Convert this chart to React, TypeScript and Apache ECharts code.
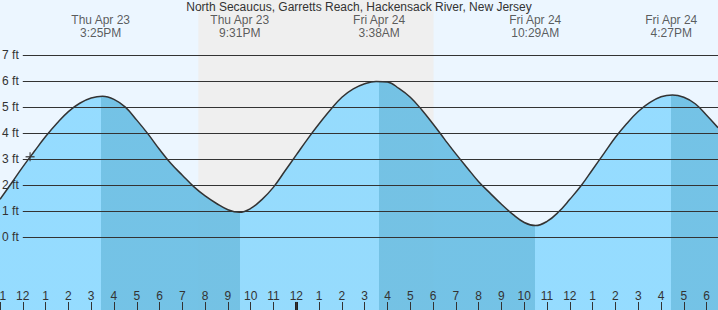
import React, { useEffect, useRef } from "react";
import * as echarts from "echarts";

const TITLE = "North Secaucus, Garretts Reach, Hackensack River, New Jersey";

// Tide readings every half hour: hours since Thu Apr 23 00:00, height in feet
const tideHours = [
  11, 11.5, 12, 12.5, 13, 13.5, 14, 14.5, 15, 15.5, 16,
  16.5, 17, 17.5, 18, 18.5, 19, 19.5, 20, 20.5, 21, 21.5,
  22, 22.5, 23, 23.5, 24, 24.5, 25, 25.5, 26, 26.5, 27,
  27.5, 28, 28.5, 29, 29.5, 30, 30.5, 31, 31.5, 32, 32.5,
  33, 33.5, 34, 34.5, 35, 35.5, 36, 36.5, 37, 37.5, 38,
  38.5, 39, 39.5, 40, 40.5, 41, 41.5, 42, 42.5,
];
const tideFeet = [
  1.45, 2.07, 2.7, 3.29, 3.87, 4.38, 4.83, 5.15, 5.35, 5.42, 5.3,
  5.0, 4.5, 3.96, 3.37, 2.83, 2.38, 1.94, 1.58, 1.29, 1.05, 0.95,
  1.1, 1.45, 1.92, 2.54, 3.16, 3.78, 4.36, 4.9, 5.38, 5.7, 5.9,
  5.99, 5.97, 5.72, 5.38, 4.9, 4.35, 3.77, 3.2, 2.66, 2.13, 1.69,
  1.26, 0.87, 0.56, 0.44, 0.6, 0.96, 1.45, 1.98, 2.6, 3.22, 3.84,
  4.37, 4.83, 5.17, 5.4, 5.47, 5.38, 5.13, 4.69, 4.21,
];

// High / low events
const eventHours = [15.4167, 21.5167, 27.6333, 34.4833, 40.45];
const eventFeet = [5.42, 0.95, 6.0, 0.44, 5.47];
const eventDays = ["Thu Apr 23", "Thu Apr 23", "Fri Apr 24", "Fri Apr 24", "Fri Apr 24"];
const eventTimes = ["3:25PM", "9:31PM", "3:38AM", "10:29AM", "4:27PM"];

const sunsetHour = 19.7;
const sunriseHour = 30.02;
const midnightHour = 24;
const nowHour = 12.32;
const nowFeet = 3.09;

const hourTicks = [
  11, 12, 13, 14, 15, 16, 17, 18, 19, 20, 21, 22, 23, 24, 25, 26, 27, 28, 29,
  30, 31, 32, 33, 34, 35, 36, 37, 38, 39, 40, 41, 42,
];
const gridFeet = [0, 1, 2, 3, 4, 5, 6, 7];
const gridStartHour = 12;

const X_MIN = 11.0;
const X_MAX = 42.5;
const Y_MIN = -2.811;
const Y_MAX = 9.126;
const LABEL_FT = 8.12;
const MIDNIGHT_TICK_FT = 0.31;

const FONT = "Liberation Sans, Arial, sans-serif";
const TEXT = "#333333";
const DAY_BG = "#ecf6ff";
const NIGHT_BG = "#efefef";
const RISE = "#8cd9ff";
const FALL = "#67bde3";

export default function App() {
  const ref = useRef<HTMLDivElement>(null);
  useEffect(() => {
    if (!ref.current) return;
    const chart = echarts.init(ref.current, undefined, { renderer: "svg" });

    const isHigh = (i: number) => {
      const n = i + 1 < eventFeet.length ? eventFeet[i + 1] : eventFeet[i - 1];
      return eventFeet[i] > n;
    };
    const pieces: any[] = [
      { lt: eventHours[0], color: isHigh(0) ? RISE : FALL },
    ];
    eventHours.forEach((h, i) => {
      const p: any = { gte: h, color: isHigh(i) ? FALL : RISE };
      if (i + 1 < eventHours.length) p.lt = eventHours[i + 1];
      pieces.push(p);
    });

    const option: any = {
      animation: false,
      backgroundColor: DAY_BG,
      textStyle: { fontFamily: FONT },
      title: {
        text: TITLE,
        left: "center",
        top: 1,
        padding: 0,
        textStyle: { fontSize: 12, fontWeight: "normal", color: TEXT, fontFamily: FONT },
      },
      grid: { left: 0, right: 0, top: 0, bottom: 0, containLabel: false, outerBoundsMode: "none" },
      xAxis: {
        type: "value",
        min: X_MIN,
        max: X_MAX,
        z: 10,
        splitLine: { show: false },
        axisLine: { show: false, onZero: false },
        axisTick: {
          show: true,
          inside: true,
          length: 8,
          customValues: hourTicks,
          lineStyle: { color: TEXT, width: 1 },
        },
        axisLabel: {
          inside: true,
          margin: 8,
          customValues: hourTicks,
          color: TEXT,
          fontSize: 12,
          fontFamily: FONT,
          formatter: (v: number) => {
            const h = Math.round(v) % 12;
            return String(h === 0 ? 12 : h);
          },
        },
      },
      yAxis: {
        type: "value",
        min: Y_MIN,
        max: Y_MAX,
        show: false,
        splitLine: { show: false },
      },
      visualMap: {
        show: false,
        type: "piecewise",
        dimension: 0,
        seriesIndex: 2,
        pieces,
      },
      series: [
        {
          type: "line",
          data: [],
          z: 0,
          markArea: {
            silent: true,
            itemStyle: { color: NIGHT_BG },
            data: [[{ xAxis: sunsetHour }, { xAxis: sunriseHour }]],
          },
        },
        {
          type: "line",
          data: [],
          z: 1,
          markLine: {
            silent: true,
            symbol: "none",
            lineStyle: { color: TEXT, width: 1, type: "solid" },
            label: {
              show: true,
              position: "start",
              distance: 4,
              formatter: "{b}",
              color: TEXT,
              fontSize: 12,
              fontFamily: FONT,
            },
            data: gridFeet.map((f) => [
              { coord: [gridStartHour, f], name: `${f} ft` },
              { coord: [X_MAX, f], name: `${f} ft` },
            ]),
          },
        },
        {
          type: "line",
          z: 2,
          data: tideHours.map((h, i) => [h, tideFeet[i]]),
          smooth: 0.4,
          showSymbol: false,
          symbol: "none",
          lineStyle: { color: "#333333", width: 1.5 },
          areaStyle: { opacity: 0.9, origin: "start" },
        },
        {
          type: "scatter",
          z: 3,
          data: eventHours.map((h) => [h, LABEL_FT]),
          symbolSize: 1,
          itemStyle: { color: "rgba(0,0,0,0)" },
          label: {
            show: true,
            position: "inside",
            color: TEXT,
            fontSize: 12,
            lineHeight: 13,
            fontFamily: FONT,
            align: "center",
            formatter: (p: any) => `${eventDays[p.dataIndex]}\n${eventTimes[p.dataIndex]}`,
          },
        },
        {
          type: "scatter",
          z: 4,
          data: [[nowHour, nowFeet]],
          symbol: "path://M0,5L10,5M5,0L5,10",
          symbolSize: 9,
          itemStyle: { color: "none", borderColor: "#333333", borderWidth: 1.3 },
        },
        {
          type: "line",
          data: [],
          z: 4,
          markLine: {
            silent: true,
            symbol: "none",
            label: { show: false },
            lineStyle: { color: "#222222", width: 3, type: "solid" },
            data: [[{ coord: [midnightHour, Y_MIN] }, { coord: [midnightHour, Y_MIN + MIDNIGHT_TICK_FT] }]],
          },
        },
      ],
    };
    chart.setOption(option);
    return () => chart.dispose();
  }, []);

  return (
    <div
      ref={ref}
      style={{ position: "fixed", left: 0, top: 0, width: 718, height: 310 }}
    />
  );
}
